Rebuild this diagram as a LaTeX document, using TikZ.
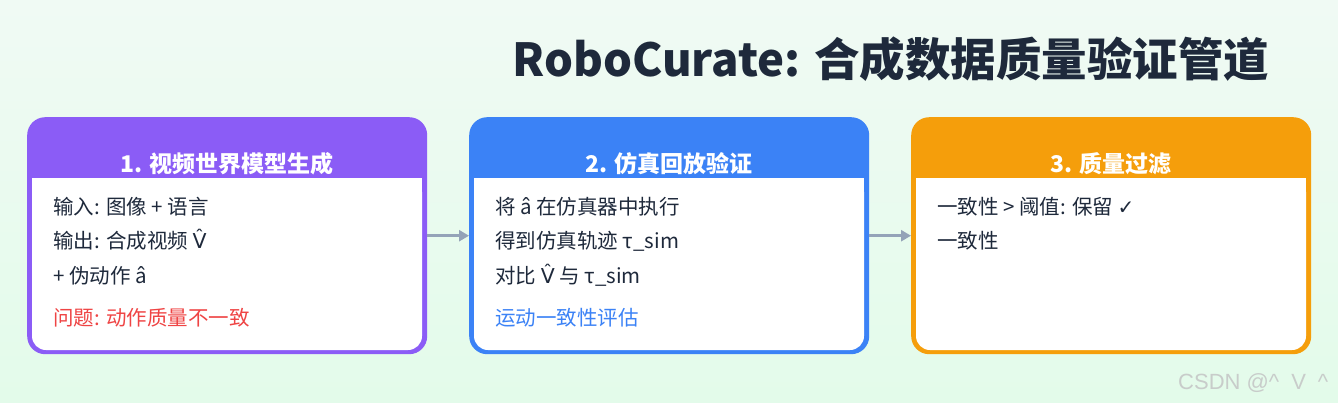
\documentclass[tikz,border=0pt]{standalone}
\usepackage{fontspec}
\setmainfont{Noto Sans CJK SC}
\newfontfamily\symfont{DejaVu Sans}
\newfontfamily\wmfont{Liberation Sans}
\usetikzlibrary{arrows.meta}
\definecolor{bgtop}{HTML}{F0FAF4}
\definecolor{bgbot}{HTML}{E3FBEA}
\definecolor{ink}{HTML}{1E293B}
\definecolor{cpurple}{HTML}{8B5CF6}
\definecolor{cblue}{HTML}{3B82F6}
\definecolor{corange}{HTML}{F59E0B}
\definecolor{cred}{HTML}{EF4444}
\definecolor{cgray}{HTML}{94A3B8}
\definecolor{wm}{HTML}{C8CCCA}
\newcommand{\Vhat}{{\symfont V̂}}
\begin{document}
\begin{tikzpicture}[x=1pt,y=-1pt,
  stagebox/.style={rounded corners=18pt, minimum width=400pt, minimum height=237pt, anchor=north west, inner sep=0pt},
  headtxt/.style={text=white, font=\fontsize{23pt}{27pt}\selectfont\bfseries, anchor=base},
  bodytxt/.style={text=ink, font=\fontsize{20.5pt}{24pt}\selectfont, anchor=base west, inner sep=0pt},
  flow/.style={draw=cgray, line width=3pt, -{Triangle[length=10pt,width=11pt]}}]
\useasboundingbox (0,0) rectangle (1338,402);
\shade[top color=bgtop,bottom color=bgbot] (0,0) rectangle (1338,402);

% title
\node[text=ink, font=\fontsize{45.5pt}{50pt}\selectfont\bfseries, anchor=base] (title) at (891,76) {RoboCurate: 合成数据质量验证管道};

% boxes
\node[stagebox, fill=cpurple] (b1) at (27,117) {};
\node[stagebox, fill=cblue] (b2) at (469,117) {};
\node[stagebox, fill=corange] (b3) at (911,117) {};

\fill[white, rounded corners=14pt] (32,178) rectangle (422,350);
\fill[white] (32,178) rectangle (422,200);
\fill[white, rounded corners=14pt] (474,178) rectangle (864,350);
\fill[white] (474,178) rectangle (864,200);
\fill[white, rounded corners=14pt] (916,178) rectangle (1306,350);
\fill[white] (916,178) rectangle (1306,200);

% headers
\node[headtxt] (h1) at (227,172) {1. 视频世界模型生成};
\node[headtxt] (h2) at (669,172) {2. 仿真回放验证};
\node[headtxt] (h3) at (1111,172) {3. 质量过滤};

% box 1 text
\node[bodytxt] (t11) at (53,214.5) {输入: 图像 + 语言};
\node[bodytxt] (t12) at (53,248.5) {输出: 合成视频 \Vhat};
\node[bodytxt] (t13) at (53,283.5) {+ 伪动作 â};
\node[bodytxt, text=cred] (t14) at (53,325.5) {问题: 动作质量不一致};

% box 2 text
\node[bodytxt] (t21) at (495,214.5) {将 â 在仿真器中执行};
\node[bodytxt] (t22) at (495,248.5) {得到仿真轨迹 τ\_sim};
\node[bodytxt] (t23) at (495,283.5) {对比 \Vhat{} 与 τ\_sim};
\node[bodytxt, text=cblue] (t24) at (495,325.5) {运动一致性评估};

% box 3 text
\node[bodytxt] (t31) at (937,214.5) {一致性 > 阈值: 保留 {\symfont\fontsize{20pt}{22pt}\selectfont ✓}};
\node[bodytxt] (t32) at (937,248.5) {一致性};

% connectors
\draw[flow] (b1.east) -- (b2.west);
\draw[flow] (b2.east) -- (b3.west);

% watermark
\node[text=wm, font=\wmfont\fontsize{22pt}{24pt}\selectfont, anchor=base west, inner sep=0pt] (wmk) at (1178,389) {CSDN @\^{}\hspace{12pt}V\hspace{12pt}\^{}};
\end{tikzpicture}
\end{document}
